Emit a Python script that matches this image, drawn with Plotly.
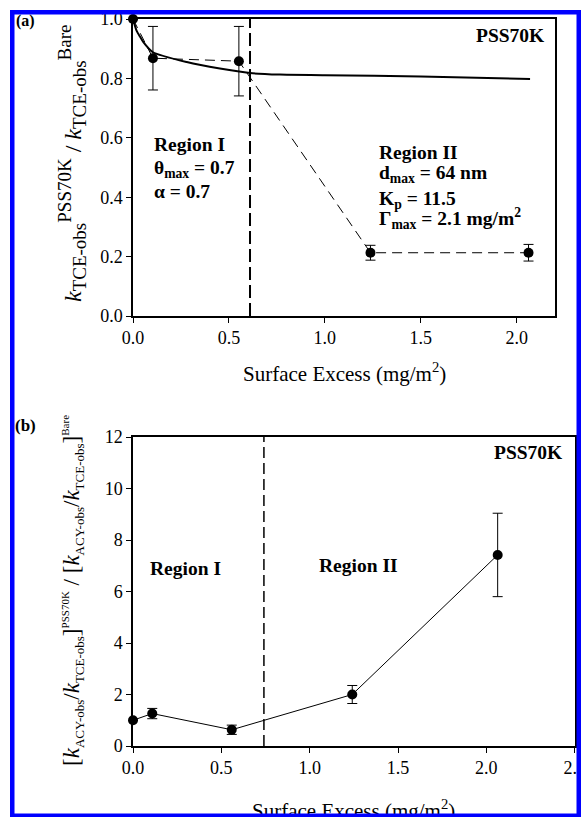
import plotly.graph_objects as go

W, H = 581, 817

# ---------------- data ----------------
# panel (a)
a_x = [0.0, 0.104, 0.552, 1.238, 2.062]
a_y = [1.0, 0.868, 0.858, 0.213, 0.213]
a_err = [0.0, 0.107, 0.117, 0.025, 0.028]
fit_x = [0.0, 0.018, 0.036, 0.054, 0.104, 0.28, 0.453, 0.61, 0.766, 1.0, 1.5, 2.07]
fit_y = [1.0, 0.962, 0.941, 0.922, 0.888, 0.855, 0.833, 0.818, 0.813, 0.811, 0.806, 0.798]
a_boundary = [0.61]
a_xticks = [0.0, 0.5, 1.0, 1.5, 2.0]
a_yticks = [0.0, 0.2, 0.4, 0.6, 0.8, 1.0]

# panel (b)
b_x = [0.0, 0.109, 0.559, 1.241, 2.064]
b_y = [1.0, 1.26, 0.63, 2.0, 7.42]
b_err = [0.0, 0.2, 0.18, 0.35, 1.62]
b_boundary = [0.741]
b_xticks = [0.0, 0.5, 1.0, 1.5, 2.0, 2.5]
b_yticks = [0, 2, 4, 6, 8, 10, 12]

FONT = "Liberation Serif"


def px_x(p):
    return p / W


def px_y(p):
    return 1 - p / H


fig = go.Figure()

# panel (a) traces
fig.add_trace(go.Scatter(
    x=fit_x, y=fit_y, mode="lines", line=dict(color="black", width=2, shape="spline", smoothing=0.6),
    xaxis="x", yaxis="y", cliponaxis=False, showlegend=False, hoverinfo="skip"))
fig.add_trace(go.Scatter(
    x=a_x, y=a_y, mode="lines+markers",
    line=dict(color="black", width=1, dash="10px,6px"),
    marker=dict(color="black", size=10),
    error_y=dict(type="data", array=a_err, color="black", thickness=1, width=5),
    xaxis="x", yaxis="y", cliponaxis=False, showlegend=False))

# panel (b) traces
fig.add_trace(go.Scatter(
    x=b_x, y=b_y, mode="lines+markers",
    line=dict(color="black", width=1),
    marker=dict(color="black", size=10),
    error_y=dict(type="data", array=b_err, color="black", thickness=1, width=5),
    xaxis="x2", yaxis="y2", cliponaxis=False, showlegend=False))

shapes = [
    dict(type="line", xref="x", yref="y domain", x0=a_boundary[0], x1=a_boundary[0], y0=0, y1=1,
         line=dict(color="black", width=2, dash="13px,5px")),
    dict(type="line", xref="x2", yref="y2 domain", x0=b_boundary[0], x1=b_boundary[0], y0=0, y1=1,
         line=dict(color="black", width=1.5, dash="11px,5px")),
]

axis_common = dict(
    showgrid=False, zeroline=False, showline=True, linecolor="black", linewidth=1.5,
    mirror=True, ticks="outside", ticklen=5, tickwidth=1.2, tickcolor="black",
    automargin=False, ticklabeloverflow="allow",
    tickfont=dict(family=FONT, size=18, color="black"),
)

fig.update_layout(
    template="none",
    width=W, height=H,
    margin=dict(l=0, r=0, t=0, b=0, autoexpand=False),
    paper_bgcolor="white", plot_bgcolor="white",
    showlegend=False,
    xaxis=dict(domain=[px_x(133), px_x(555)], range=[0, 2.2], tickvals=a_xticks,
               tickformat=".1f", anchor="y", **axis_common),
    yaxis=dict(domain=[px_y(316), px_y(19)], range=[0, 1.0], tickvals=a_yticks,
               tickformat=".1f", anchor="x", **axis_common),
    xaxis2=dict(domain=[px_x(133), px_x(574.7)], range=[0, 2.5], tickvals=b_xticks,
                tickformat=".1f", anchor="y2", **axis_common),
    yaxis2=dict(domain=[px_y(746), px_y(437)], range=[0, 12], tickvals=b_yticks,
                anchor="x2", **axis_common),
    shapes=shapes,
)


def ann(text, x, y, size, xanchor="left", yanchor="middle", angle=0):
    return dict(text=text, x=px_x(x), y=px_y(y), xref="paper", yref="paper",
                xanchor=xanchor, yanchor=yanchor, showarrow=False, textangle=angle,
                font=dict(family=FONT, size=size, color="black"))


S = '<span style="font-size:%dpx">%s</span>'
ya_title = ("<i>k</i><sub>" + S % (19, "TCE-obs") + "</sub><sup>" + S % (19, "PSS70K") + "</sup> / "
            "<i>k</i><sub>" + S % (19, "TCE-obs") + "</sub><sup>" + S % (19, "Bare") + "</sup>")
yb_title = ("[<i>k</i><sub>" + S % (13, "ACY-obs") + "</sub>/<i>k</i><sub>" + S % (13, "TCE-obs")
            + "</sub>]<sup>" + S % (11, "PSS70K") + "</sup> / "
            "[<i>k</i><sub>" + S % (13, "ACY-obs") + "</sub>/<i>k</i><sub>" + S % (13, "TCE-obs")
            + "</sub>]<sup>" + S % (11, "Bare") + "</sup>")

annotations = [
    ann("<b>(a)</b>", 14, 21.5, 16),
    ann("<b>(b)</b>", 13, 425, 17),
    ann("<b>PSS70K</b>", 547, 36, 19.5, xanchor="right"),
    ann("<b>PSS70K</b>", 565, 452, 19.5, xanchor="right"),
    ann("<b>Region I</b>", 152, 144, 19.5),
    ann("<b>θ<sub>max</sub> = 0.7</b>", 152, 169, 19.5),
    ann("<b>α = 0.7</b>", 152, 191, 19.5),
    ann("<b>Region II</b>", 377, 152, 19.5),
    ann("<b>d<sub>max</sub> = 64 nm</b>", 377, 174, 19.5),
    ann("<b>K<sub>p</sub> = 11.5</b>", 377, 200, 19.5),
    ann("<b>Γ<sub>max</sub> = 2.1 mg/m<sup>2</sup></b>", 377, 218, 19.5),
    ann("<b>Region I</b>", 148, 568, 19.5),
    ann("<b>Region II</b>", 317, 565, 19.5),
    ann("Surface Excess (mg/m<sup>2</sup>)", 344, 373, 21, xanchor="center"),
    ann("Surface Excess (mg/m<sup>2</sup>)", 354, 809, 21, xanchor="center"),
    ann(ya_title, 72, 163, 24, xanchor="center", angle=-90),
    ann(yb_title, 73, 591, 23, xanchor="center", angle=-90),
]

# blue page frame, drawn last so that it sits above every text (as in the reference)
frame_w, frame_bw = 571.0, 4.5
frame_h = 807.5
annotations.append(dict(
    text=" ", x=px_x(9.5 + frame_w / 2), y=px_y(10 + frame_h / 2), xref="paper", yref="paper",
    xanchor="center", yanchor="middle", showarrow=False,
    width=frame_w - 2 * frame_bw, height=frame_h - 2 * frame_bw,
    borderpad=0, borderwidth=frame_bw, bordercolor="#0000FF", bgcolor="rgba(0,0,0,0)",
    font=dict(family=FONT, size=10, color="rgba(0,0,0,0)")))

fig.update_layout(annotations=annotations)

fig.write_html("out.html", config={"displayModeBar": False},
               post_script="document.body.style.margin='0';document.body.style.overflow='hidden';")
